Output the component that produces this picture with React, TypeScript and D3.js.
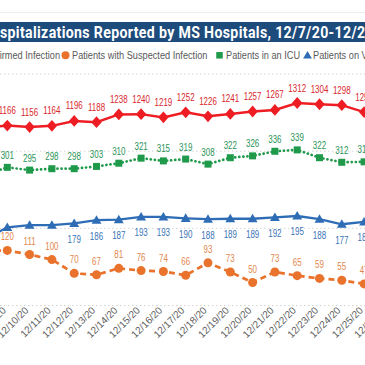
import { useLayoutEffect, useRef, useState } from "react";
import * as d3 from "d3";

const W = 365;
const H = 365;

const TITLE = "COVID-19 Hospitalizations Reported by MS Hospitals, 12/7/20-12/27/20";
const TITLE_SHOWN = "spitalizations Reported by MS Hospitals, 12/7/20-12/2";

const dates = [
  "12/7/20", "12/8/20", "12/9/20", "12/10/20", "12/11/20", "12/12/20", "12/13/20",
  "12/14/20", "12/15/20", "12/16/20", "12/17/20", "12/18/20", "12/19/20", "12/20/20",
  "12/21/20", "12/22/20", "12/23/20", "12/24/20", "12/25/20", "12/26/20", "12/27/20",
];

// values (12/8 and 12/25 estimated from the cut-off ends)
const confirmed = [null, 1150, 1166, 1156, 1164, 1196, 1188, 1238, 1240, 1219, 1252, 1226, 1241, 1257, 1267, 1312, 1304, 1298, 1253, null, null];
const suspected = [null, 118, 120, 111, 100, 70, 67, 81, 76, 74, 66, 93, 73, 50, 73, 65, 59, 55, 47, null, null];
const icu = [null, 285, 301, 295, 298, 298, 303, 310, 321, 315, 319, 308, 322, 326, 336, 339, 322, 312, 313, null, null];
const vent = [null, 145, 170, 175, 175, 179, 186, 187, 193, 193, 190, 188, 189, 189, 192, 195, 188, 177, 182, null, null];
// the first vent labels sit under the suspected ones in the original
const ventLabelFrom = "12/12/20";

const legendItems = [
  { name: "Patients with Confirmed Infection", shape: "diamond", color: "#ee1d23" },
  { name: "Patients with Suspected Infection", shape: "circle", color: "#e9732d" },
  { name: "Patients in an ICU", shape: "square", color: "#1f9a4b" },
  { name: "Patients on Ventilators", shape: "triangle", color: "#2e6db6" },
];

const FONT = "'Liberation Sans', Arial, sans-serif";

function Marker({ shape, x, y, color, s }: { shape: string; x: number; y: number; color: string; s: number }) {
  if (shape === "diamond") {
    return <path d={`M${x},${y - s * 0.62}L${x + s * 0.55},${y}L${x},${y + s * 0.62}L${x - s * 0.55},${y}Z`} fill={color} />;
  }
  if (shape === "circle") return <circle cx={x} cy={y} r={s / 2} fill={color} />;
  if (shape === "square") return <rect x={x - s / 2} y={y - s / 2} width={s} height={s} fill={color} />;
  return <path d={`M${x},${y - s * 0.55}L${x + s * 0.55},${y + s * 0.4}L${x - s * 0.55},${y + s * 0.4}Z`} fill={color} />;
}

export default function App() {
  const titleRef = useRef<SVGTextElement>(null);
  const [fit, setFit] = useState({ sx: 1, dx: 0 });

  useLayoutEffect(() => {
    const t = titleRef.current;
    if (!t) return;
    const start = TITLE.indexOf(TITLE_SHOWN);
    const pre = t.getSubStringLength(0, start);
    const shown = t.getSubStringLength(start, TITLE_SHOWN.length);
    setFit({ sx: 366 / shown, dx: -pre });
  }, []);

  const x = d3.scalePoint<string>().domain(dates).range([-37.3, 408.7]);
  const yLeft = d3.scaleLinear().domain([0, 500]).range([305.5, 76]);
  const yRight = d3.scaleLinear().domain([0, 1500]).range([305.5, 74]);

  const series = [
    { key: "confirmed", values: confirmed, y: yRight, color: "#ee1d23", label: "#d8282e", shape: "diamond", size: 9.5, dash: null, width: 2.5, dy: -11.5 },
    { key: "icu", values: icu, y: yLeft, color: "#1f9a4b", label: "#2b9458", shape: "square", size: 7, dash: "0.1 4", width: 2.7, dy: -8.5 },
    { key: "vent", values: vent, y: yLeft, color: "#2e6db6", label: "#3a74b8", shape: "triangle", size: 9, dash: null, width: 2.3, dy: 19.5 },
    { key: "suspected", values: suspected, y: yLeft, color: "#e9732d", label: "#e2874f", shape: "circle", size: 9, dash: "6 4", width: 2.7, dy: -10 },
  ];

  const gridTicks = yRight.ticks(3);

  const legendPos = [
    { textEnd: 60, marker: -7 },
    { text: 72, marker: 65.5 },
    { text: 226, marker: 219.5 },
    { text: 313, marker: 307.5 },
  ];

  return (
    <svg width={W} height={H} style={{ position: "absolute", left: 0, top: 0, background: "#fff" }}>
      <line x1={0} x2={W} y1={12.5} y2={12.5} stroke="#ececec" />
      <rect x={0} y={22} width={W} height={20} fill="#1d4b7c" />
      <text
        ref={titleRef}
        transform={`translate(0,38) scale(${fit.sx},1)`}
        x={fit.dx}
        fill="#fff"
        fontFamily="Roboto, 'Liberation Sans', sans-serif"
        fontWeight={700}
        fontSize={16}
        letterSpacing={0.4}
      >
        {TITLE}
      </text>

      {legendItems.map((item, i) => {
        const p = legendPos[i];
        return (
          <g key={item.name}>
            <Marker shape={item.shape} x={p.marker} y={55.3} color={item.color} s={item.shape === "square" ? 6.5 : 8} />
            <text
              transform={`translate(${p.textEnd ?? p.text},58.8) scale(0.8,1)`}
              textAnchor={p.textEnd ? "end" : "start"}
              fontFamily={FONT}
              fontSize={11.5}
              fill="#595959"
            >
              {item.name}
            </text>
          </g>
        );
      })}

      {gridTicks.map((t) => (
        <line key={t} x1={0} x2={W} y1={yRight(t)} y2={yRight(t)} stroke="#d4d4d4" strokeWidth={1} strokeDasharray="1.5 2.5" />
      ))}

      {dates.map((d) => (
        <text
          key={d}
          transform={`translate(${(x(d) ?? 0) - 0.5},${311}) rotate(-45)`}
          textAnchor="end"
          fontFamily={FONT}
          fontSize={10}
          fill="#5f5f5f"
        >
          {d}
        </text>
      ))}

      {series.map((s) => {
        const pts = dates.map((d, i) => ({ d, v: s.values[i] }));
        const line = d3
          .line<{ d: string; v: number | null }>()
          .defined((p) => p.v != null)
          .x((p) => x(p.d) ?? 0)
          .y((p) => s.y(p.v as number));
        return (
          <g key={s.key}>
            <path
              d={line(pts) ?? ""}
              fill="none"
              stroke={s.color}
              strokeWidth={s.width}
              strokeDasharray={s.dash ?? undefined}
              strokeLinecap={s.dash && s.dash.startsWith("0.1") ? "round" : "butt"}
            />
            {pts
              .filter((p) => p.v != null)
              .map((p) => (
                <Marker key={p.d} shape={s.shape} x={x(p.d) ?? 0} y={s.y(p.v as number)} color={s.color} s={s.size} />
              ))}
          </g>
        );
      })}

      {series.map((s) =>
        dates.map((d, i) => {
          const v = s.values[i];
          if (v == null) return null;
          if (s.key === "vent" && dates.indexOf(d) < dates.indexOf(ventLabelFrom)) return null;
          return (
            <text
              key={s.key + d}
              transform={`translate(${x(d) ?? 0},${s.y(v) + s.dy}) scale(0.76,1)`}
              textAnchor="middle"
              fontFamily={FONT}
              fontSize={10.5}
              fill={s.label}
            >
              {v}
            </text>
          );
        })
      )}
    </svg>
  );
}
